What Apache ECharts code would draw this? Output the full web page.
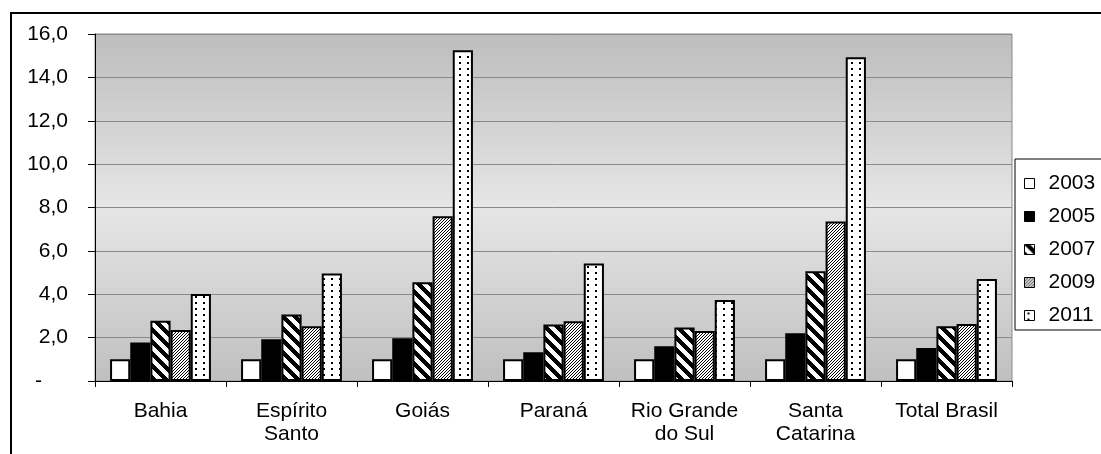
<!DOCTYPE html>
<html>
<head>
<meta charset="utf-8">
<script src="https://cdn.jsdelivr.net/npm/echarts@6/dist/echarts.min.js"></script>
<style>
  html, body { margin: 0; padding: 0; background: #fff; }
  #chart { width: 1101px; height: 454px; }
</style>
</head>
<body>
<div id="chart"></div>
<script>
// Categories (states) and yearly values
const categories = ['Bahia', 'Espírito\nSanto', 'Goiás', 'Paraná', 'Rio Grande\ndo Sul', 'Santa\nCatarina', 'Total Brasil'];
const years = ['2003', '2005', '2007', '2009', '2011'];
const v2003 = [1.0, 1.0, 1.0, 1.0, 1.0, 1.0, 1.0];
const v2005 = [1.77, 1.93, 1.97, 1.33, 1.6, 2.2, 1.52];
const v2007 = [2.78, 3.07, 4.55, 2.6, 2.47, 5.06, 2.53];
const v2009 = [2.35, 2.53, 7.6, 2.75, 2.3, 7.36, 2.63];
const v2011 = [4.01, 4.96, 15.25, 5.42, 3.73, 14.93, 4.7];
const yTicks = { min: 0, max: 16, step: 2 };

// Fill patterns drawn on small tiles
function tile(w, h, paint) {
  const c = document.createElement('canvas');
  c.width = w; c.height = h;
  const ctx = c.getContext('2d');
  ctx.fillStyle = '#fff';
  ctx.fillRect(0, 0, w, h);
  ctx.fillStyle = '#000';
  paint(ctx, w, h);
  return c;
}
// wide downward diagonal stripes
const wideDiag = tile(12, 12, (ctx, w, h) => {
  for (let x = 0; x < w; x++) for (let y = 0; y < h; y++) {
    if (((x - y) % 12 + 12) % 12 < 6) ctx.fillRect(x, y, 1, 1);
  }
});
// thin upward diagonal hatching
const thinDiag = tile(3, 3, (ctx, w, h) => {
  for (let x = 0; x < w; x++) for (let y = 0; y < h; y++) {
    if ((x + y) % 3 === 0) ctx.fillRect(x, y, 1, 1);
  }
});
// small dots
const dots = tile(8, 6, (ctx) => { ctx.fillRect(3, 2, 2, 2); });

const fills = [
  '#ffffff',
  '#000000',
  { image: wideDiag, repeat: 'repeat' },
  { image: thinDiag, repeat: 'repeat' },
  { image: dots, repeat: 'repeat' }
];
const values = [v2003, v2005, v2007, v2009, v2011];

const FONT = "'Liberation Sans', Arial, sans-serif";
const FS = 21;

const chart = echarts.init(document.getElementById('chart'), null, { renderer: 'canvas' });
chart.setOption({
  animation: false,
  backgroundColor: '#fff',
  textStyle: { fontFamily: FONT },
  graphic: [{
    type: 'rect',
    z: -10,
    shape: { x: 11, y: 13, width: 1200, height: 600 },
    style: { fill: 'none', stroke: '#000', lineWidth: 2 }
  }],
  grid: {
    left: 95, right: 89, top: 34, bottom: 73,
    show: true,
    borderWidth: 1,
    borderColor: '#8a8a8a',
    backgroundColor: {
      type: 'linear', x: 0, y: 0, x2: 0, y2: 1,
      colorStops: [
        { offset: 0, color: '#bdbdbd' },
        { offset: 0.5, color: '#e6e6e6' },
        { offset: 1, color: '#bfbfbf' }
      ]
    }
  },
  legend: {
    orient: 'vertical',
    left: 1015, top: 159,
    padding: [14, 40, 4, 9],
    itemGap: 12,
    itemWidth: 10, itemHeight: 10,
    icon: 'rect',
    borderColor: '#000', borderWidth: 1,
    backgroundColor: '#fff',
    selectedMode: false,
    itemStyle: { borderWidth: 1, borderColor: '#000' },
    textStyle: { fontFamily: FONT, fontSize: FS, color: '#000', padding: [0, 0, 0, 9] },
    data: years
  },
  xAxis: {
    type: 'category',
    data: categories,
    axisLine: { lineStyle: { color: '#000', width: 1 } },
    axisTick: { show: true, length: 6, lineStyle: { color: '#000' } },
    axisLabel: {
      fontFamily: FONT, fontSize: FS, color: '#000',
      margin: 19, lineHeight: 23, interval: 0
    },
    splitLine: { show: false }
  },
  yAxis: {
    type: 'value',
    min: yTicks.min, max: yTicks.max, interval: yTicks.step,
    axisLine: { show: true, lineStyle: { color: '#000', width: 1 } },
    axisTick: { show: true, length: 7, lineStyle: { color: '#000' } },
    axisLabel: {
      fontFamily: FONT, fontSize: FS, color: '#000', margin: 27,
      formatter: v => v === 0 ? '{d|-}' : v.toFixed(1).replace('.', ','),
      rich: { d: { fontFamily: FONT, fontSize: FS, color: '#000', padding: [0, 26, 0, 0] } }
    },
    splitLine: { show: true, lineStyle: { color: '#8a8a8a', width: 1 } }
  },
  series: years.map((y, i) => ({
    name: y,
    type: 'bar',
    data: values[i],
    barGap: '0%',
    barCategoryGap: '23%',
    itemStyle: { color: fills[i], borderColor: '#000', borderWidth: 2 },
    emphasis: { disabled: true }
  }))
});
</script>
</body>
</html>
